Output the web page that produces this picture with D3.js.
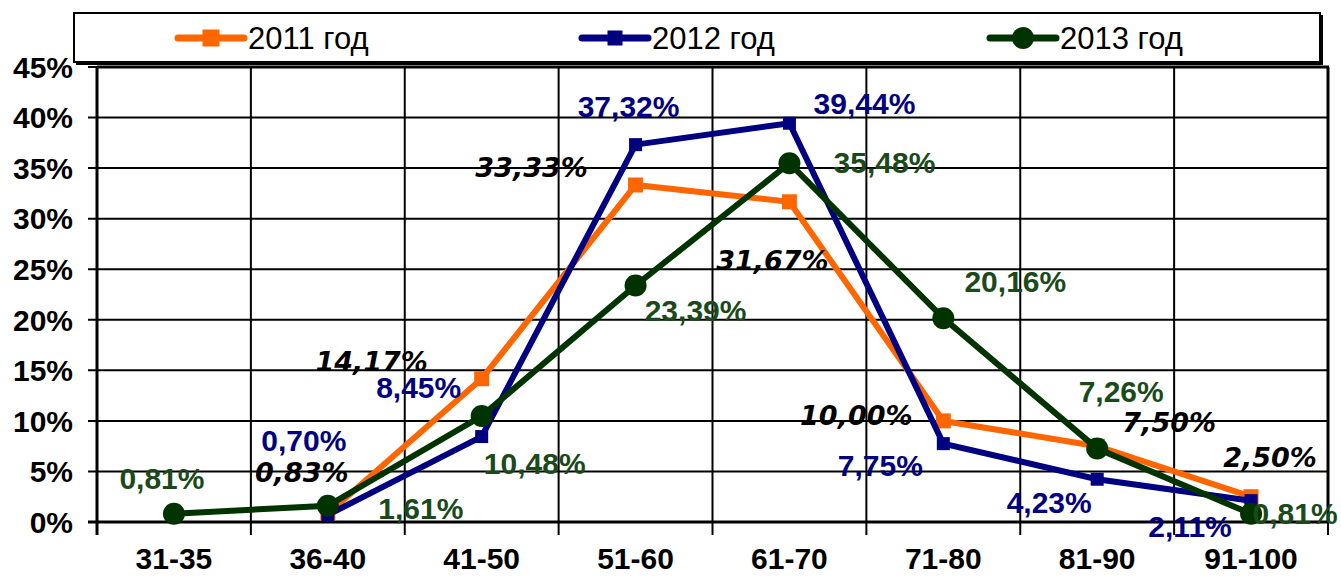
<!DOCTYPE html>
<html><head><meta charset="utf-8">
<script src="https://cdn.jsdelivr.net/npm/d3@7"></script>
<style>body{margin:0;background:#fff}svg{display:block}</style>
</head><body>
<svg id="c" width="1341" height="580"></svg>
<script>
const categories = ["31-35","36-40","41-50","51-60","61-70","71-80","81-90","91-100"];
const yTicks = [0,5,10,15,20,25,30,35,40,45];
const series2011 = [null,0.83,14.17,33.33,31.67,10.00,7.50,2.50];
const series2012 = [null,0.70,8.45,37.32,39.44,7.75,4.23,2.11];
const series2013 = [0.81,1.61,10.48,23.39,35.48,20.16,7.26,0.81];
const seriesNames = ["2011 год","2012 год","2013 год"];

// label offsets (styling only)
const off2011 = [null,[-26,-41],[-110,-17],[-104,-18],[-17,58],[-87,-6],[72,-24],[19,-39]];
const off2012 = [null,[-24,-75],[-63,-49],[-7,-38],[75,-20],[-63,22],[-48,23],[-61,26]];
const off2013 = [[-12,-36],[93,2],[53,47],[60,25],[95,-1],[72,-37],[24,-57],[44,-1]];

const svg = d3.select("#c");
const L = 97, R = 1328, T = 67, B = 522;
const x = d3.scaleBand().domain(categories).range([L,R]);
const y = d3.scaleLinear().domain([0,45]).range([B,T]);
const cx = c => x(c) + x.bandwidth()/2;

// grid
const g = svg.append("g");
g.selectAll("line.h").data(yTicks).join("line")
  .attr("x1", L-9).attr("x2", R).attr("y1", d=>y(d)).attr("y2", d=>y(d))
  .attr("stroke","#000").attr("stroke-width",2);
const vx = categories.map(c=>x(c)).concat([R]);
g.selectAll("line.v").data(vx).join("line")
  .attr("x1", d=>d).attr("x2", d=>d).attr("y1", T).attr("y2", B+13)
  .attr("stroke","#000").attr("stroke-width",2);
g.append("line").attr("x1",L).attr("x2",R+1).attr("y1",T).attr("y2",T).attr("stroke","#000").attr("stroke-width",3);
g.append("line").attr("x1",R).attr("x2",R).attr("y1",T).attr("y2",B).attr("stroke","#000").attr("stroke-width",3);
g.append("line").attr("x1",L).attr("x2",L).attr("y1",T).attr("y2",B+13).attr("stroke","#000").attr("stroke-width",3);
g.append("line").attr("x1",L-9).attr("x2",R).attr("y1",B).attr("y2",B).attr("stroke","#000").attr("stroke-width",3);

// y labels
svg.append("g").selectAll("text").data(yTicks).join("text")
  .attr("x", 73).attr("y", d=>y(d)).attr("dy","0.36em")
  .attr("text-anchor","end").attr("font-family","Liberation Sans, Arial, sans-serif")
  .attr("font-weight","bold").attr("font-size",30).text(d=>d+"%");
// x labels
svg.append("g").selectAll("text").data(categories).join("text")
  .attr("x", d=>cx(d)).attr("y", 558).attr("dy","0.36em")
  .attr("text-anchor","middle").attr("font-family","Liberation Sans, Arial, sans-serif")
  .attr("font-weight","bold").attr("font-size",30).text(d=>d);

const cfg = [
  {data:series2011, off:off2011, color:"#FF6600", text:"#000", marker:"square", size:15, italic:true},
  {data:series2012, off:off2012, color:"#000080", text:"#000080", marker:"square", size:13, italic:false},
  {data:series2013, off:off2013, color:"#003300", text:"#1a4a1a", marker:"circle", size:11, italic:false}
];
const line = d3.line().defined(d=>d.v!=null).x(d=>cx(d.c)).y(d=>y(d.v));
cfg.forEach(s=>{
  const pts = categories.map((c,i)=>({c, v:s.data[i], o:s.off[i]}));
  svg.append("path").datum(pts).attr("d", line).attr("fill","none")
    .attr("stroke", s.color).attr("stroke-width",6).attr("stroke-linejoin","miter");
  const vp = pts.filter(d=>d.v!=null);
  if (s.marker==="square") {
    svg.append("g").selectAll("rect").data(vp).join("rect")
      .attr("x", d=>cx(d.c)-s.size/2).attr("y", d=>y(d.v)-s.size/2)
      .attr("width", s.size).attr("height", s.size).attr("fill", s.color);
  } else {
    svg.append("g").selectAll("circle").data(vp).join("circle")
      .attr("cx", d=>cx(d.c)).attr("cy", d=>y(d.v)).attr("r", s.size).attr("fill", s.color);
  }
  s.pts = vp;
});
// labels on top
cfg.forEach(s=>{
  svg.append("g").selectAll("text").data(s.pts).join("text")
    .attr("x", d=>cx(d.c)+d.o[0]).attr("y", d=>y(d.v)+d.o[1]).attr("dy","0.36em")
    .attr("text-anchor","middle")
    .attr("font-family", s.italic ? "DejaVu Sans, Verdana, sans-serif" : "Liberation Sans, Arial, sans-serif")
    .attr("font-style", s.italic ? "italic" : "normal")
    .attr("font-weight","bold").attr("font-size", s.italic ? 27 : 30)
    .attr("fill", s.text)
    .text(d=>d.v.toFixed(2).replace(".",",")+"%");
});

// legend
const lg = svg.append("g");
lg.append("rect").attr("x",76).attr("y",15).attr("width",1247).attr("height",50).attr("fill","#000");
lg.append("rect").attr("x",74).attr("y",13).attr("width",1246).attr("height",49).attr("fill","#fff").attr("stroke","#000").attr("stroke-width",2);
const legX = [178, 582, 990];
cfg.forEach((s,i)=>{
  const ly = 38;
  lg.append("line").attr("x1",legX[i]).attr("x2",legX[i]+66).attr("y1",ly).attr("y2",ly)
    .attr("stroke",s.color).attr("stroke-width",7).attr("stroke-linecap","round");
  if (s.marker==="square") lg.append("rect").attr("x",legX[i]+33-(s.size+2)/2).attr("y",ly-(s.size+2)/2).attr("width",s.size+2).attr("height",s.size+2).attr("fill",s.color);
  else lg.append("circle").attr("cx",legX[i]+33).attr("cy",ly).attr("r",s.size).attr("fill",s.color);
  lg.append("text").attr("x",legX[i]+70).attr("y",ly).attr("dy","0.36em")
    .attr("font-family","Liberation Sans, Arial, sans-serif").attr("font-size",31).text(seriesNames[i]);
});
</script>
</body></html>
